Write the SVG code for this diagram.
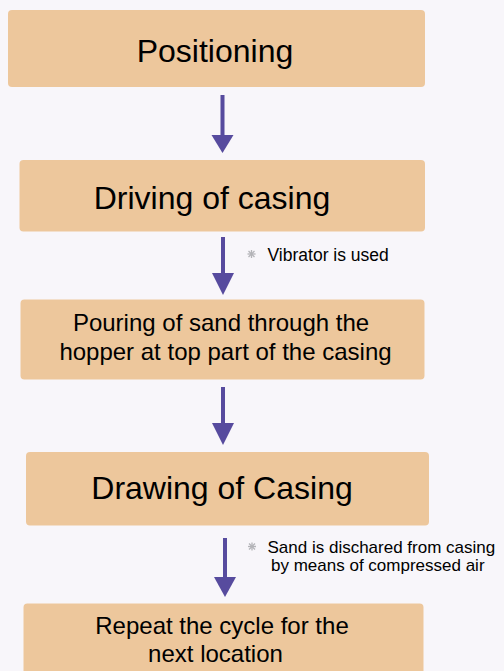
<svg xmlns="http://www.w3.org/2000/svg" width="504" height="671" viewBox="0 0 504 671">
<defs>
<style>
.box{fill:#edc79c;}
.t{font-family:"Liberation Sans",Arial,sans-serif;fill:#000;text-anchor:middle;}
.big{font-size:32px;}
.mid{font-size:24px;}
.note{font-family:"Liberation Sans",Arial,sans-serif;fill:#000;font-size:17.5px;}
.shaft{stroke:#574b9e;stroke-width:4;fill:none;}
.head{fill:#574b9e;}
.bul{stroke:#b4b4b8;stroke-width:1.3;fill:none;}
</style>
</defs>
<rect width="504" height="671" fill="#f8f6fa"/>
<g id="connectors">
<line class="shaft" x1="222.5" y1="95" x2="222.5" y2="138"/>
<polygon class="head" points="211.5,135 233.5,135 222.5,153"/>
<line class="shaft" x1="223" y1="237" x2="223" y2="276"/>
<polygon class="head" points="212,273 234,273 223,295"/>
<line class="shaft" x1="223" y1="387" x2="223" y2="426"/>
<polygon class="head" points="212,423 234,423 223,445"/>
<line class="shaft" x1="225" y1="538" x2="225" y2="580"/>
<polygon class="head" points="214,577 236,577 225,597"/>
</g>
<g id="positioning">
<rect class="box" x="8" y="10" width="417" height="77" rx="4"/>
<text class="t big" x="215" y="62">Positioning</text>
</g>
<g id="driving">
<rect class="box" x="19.5" y="160" width="405.5" height="71.5" rx="4"/>
<text class="t big" x="212" y="209">Driving of casing</text>
</g>
<g id="vibrator-note">
<g class="bul" transform="translate(251.5,254)">
<line x1="-4" y1="0" x2="4" y2="0"/><line x1="0" y1="-4" x2="0" y2="4"/><line x1="-3" y1="-3" x2="3" y2="3"/><line x1="-3" y1="3" x2="3" y2="-3"/>
</g>
<text class="note" x="267.5" y="261">Vibrator is used</text>
</g>
<g id="pouring">
<rect class="box" x="20.5" y="299.5" width="404" height="80" rx="4"/>
<text class="t mid" x="221" y="331">Pouring of sand through the</text>
<text class="t mid" x="225.5" y="360">hopper at top part of the casing</text>
</g>
<g id="drawing">
<rect class="box" x="26" y="452" width="403" height="73.5" rx="4"/>
<text class="t big" x="222" y="498.5">Drawing of Casing</text>
</g>
<g id="sand-note">
<g class="bul" transform="translate(252,546.5)">
<line x1="-4" y1="0" x2="4" y2="0"/><line x1="0" y1="-4" x2="0" y2="4"/><line x1="-3" y1="-3" x2="3" y2="3"/><line x1="-3" y1="3" x2="3" y2="-3"/>
</g>
<text class="note" x="267.5" y="553" style="font-size:17px">Sand is dischared from casing</text>
<text class="note" x="271" y="571" style="font-size:17px">by means of compressed air</text>
</g>
<g id="repeat">
<rect class="box" x="23.5" y="603.5" width="400" height="75" rx="4"/>
<text class="t mid" x="222" y="633.5">Repeat the cycle for the</text>
<text class="t mid" x="215.5" y="662">next location</text>
</g>
</svg>
